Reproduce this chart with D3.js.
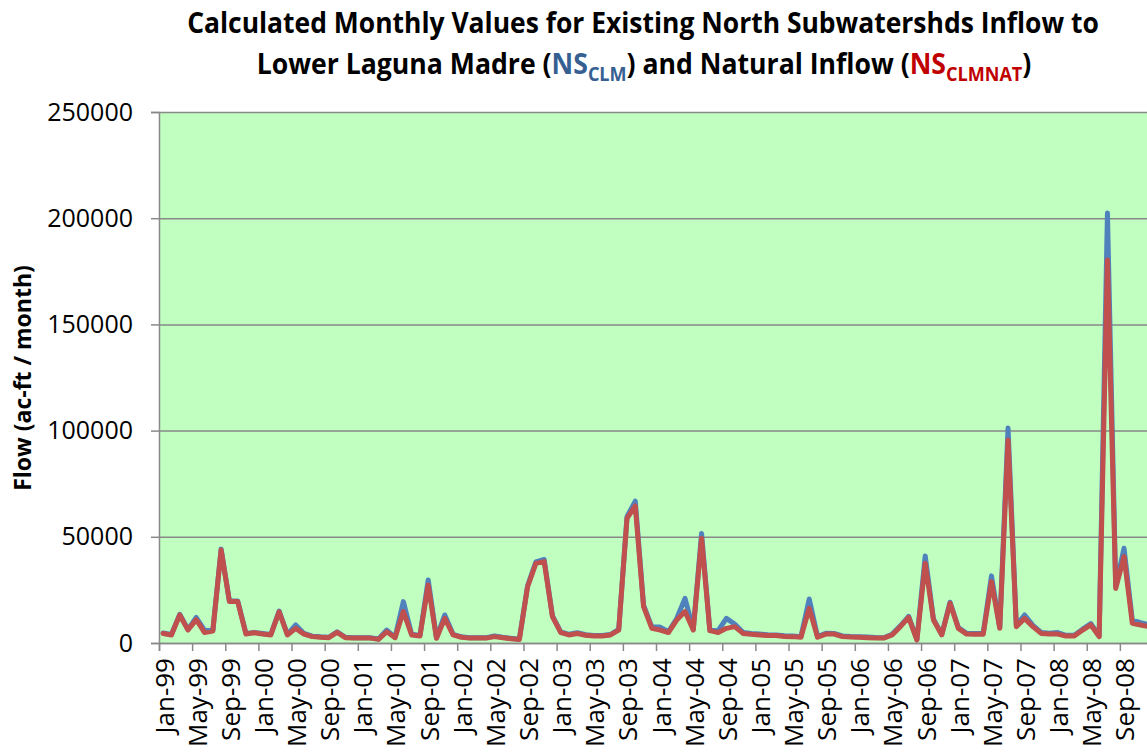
<!DOCTYPE html>
<html>
<head>
<meta charset="utf-8">
<script src="https://cdn.jsdelivr.net/npm/d3@7"></script>
<style>
  body { margin: 0; background: #fff; overflow: hidden; }
  svg { display: block; font-family: "Open Sans", sans-serif; }
</style>
</head>
<body>
<div id="chart"></div>
<script>
// data
var monthNames = ["Jan", "Feb", "Mar", "Apr", "May", "Jun", "Jul", "Aug", "Sep", "Oct", "Nov", "Dec"];
var years = ["99", "00", "01", "02", "03", "04", "05", "06", "07", "08"];

// NS_CLM (existing inflow), Jan-99 .. Dec-08
var nsClm = [
  4700, 4000, 13500, 6400, 12000, 6000, 5900, 44200, 19800, 19800,
  4500, 5000, 4500, 4000, 15000, 4100, 8500, 4500, 3200, 2900,
  2700, 5300, 2700, 2500, 2500, 2500, 1900, 6100, 2700, 19500,
  4100, 3500, 29700, 2400, 13200, 4100, 2900, 2500, 2500, 2500,
  3300, 2700, 2200, 1800, 27000, 38200, 39300, 12800, 5200, 4100,
  4800, 3900, 3500, 3500, 4000, 6400, 59500, 66800, 17800, 7500,
  7500, 5300, 11500, 21000, 6400, 51600, 6000, 5800, 11600, 8900,
  5000, 4500, 4200, 3900, 3800, 3400, 3300, 3000, 20700, 3000,
  4600, 4500, 3300, 3100, 3000, 2800, 2600, 2500, 4100, 8100,
  12500, 1600, 41000, 11200, 4100, 19200, 7300, 4600, 4500, 4500,
  31600, 7300, 101200, 8300, 13200, 8300, 5000, 4600, 4900, 3600,
  3600, 6500, 9100, 3300, 202400, 26500, 44600, 10800, 9600, 8500
];

// NS_CLMNAT (natural inflow)
var nsClmNat = [
  4500, 3800, 13200, 6100, 11000, 4900, 5600, 43800, 19500, 19500,
  4200, 4800, 4200, 3800, 14700, 3800, 6900, 4200, 3000, 2700,
  2500, 5000, 2500, 2300, 2300, 2300, 1700, 5300, 2500, 14800,
  3800, 3300, 27300, 2200, 11600, 3800, 2700, 2300, 2300, 2300,
  3000, 2500, 2000, 1600, 26500, 37500, 38300, 12400, 4900, 3800,
  4500, 3600, 3300, 3300, 3800, 6100, 58700, 64500, 17100, 6900,
  6100, 4900, 10800, 14800, 6100, 49300, 5800, 4900, 6900, 7700,
  4500, 4100, 3800, 3500, 3500, 3100, 3000, 2700, 16300, 2700,
  4200, 4200, 3000, 2800, 2700, 2500, 2300, 2300, 3800, 7700,
  12100, 1400, 37500, 10800, 3800, 18700, 6900, 4200, 4100, 4100,
  28900, 6900, 95600, 7700, 11600, 7700, 4500, 4200, 4200, 3300,
  3300, 6100, 8500, 3000, 180300, 25700, 40700, 9300, 8500, 7700
];

var yTicks = [0, 50000, 100000, 150000, 200000, 250000];

var categories = [];
years.forEach(function (yr) {
  monthNames.forEach(function (m) { categories.push(m + "-" + yr); });
});

// chart setup
var svgWidth = 1147;
var svgHeight = 753;
var plot = { left: 159, top: 112, right: 1153, bottom: 643 };

var svg = d3.select("#chart")
  .append("svg")
  .attr("width", svgWidth)
  .attr("height", svgHeight);

var xScale = d3.scaleBand()
  .domain(categories)
  .range([plot.left, plot.right])
  .padding(0);

// linear index scale, used for the ticks that sit between categories
var xIndex = d3.scaleLinear()
  .domain([0, categories.length])
  .range([plot.left, plot.right]);

var yScale = d3.scaleLinear()
  .domain([0, 250000])
  .range([plot.bottom, plot.top]);

// plot background
svg.append("rect")
  .attr("x", plot.left)
  .attr("y", plot.top)
  .attr("width", plot.right - plot.left)
  .attr("height", plot.bottom - plot.top)
  .attr("fill", "#C0FFC0");

// gridlines
svg.append("g")
  .attr("transform", `translate(${plot.left},0)`)
  .call(d3.axisLeft(yScale).tickValues(yTicks).tickSize(-(plot.right - plot.left)).tickFormat(""))
  .call(g => g.select(".domain").remove())
  .selectAll("line")
  .attr("stroke", "#898989")
  .attr("stroke-width", 1.5);

// y axis
var yAxis = svg.append("g")
  .attr("transform", `translate(${plot.left},0)`)
  .call(d3.axisLeft(yScale).tickValues(yTicks).tickSize(8).tickPadding(18).tickFormat(d3.format("d")));
yAxis.select(".domain").attr("stroke", "#898989").attr("stroke-width", 1.5);
yAxis.selectAll(".tick line").attr("stroke", "#898989").attr("stroke-width", 1.5);
yAxis.selectAll("text")
  .attr("font-family", "Open Sans")
  .attr("font-size", "25px")
  .attr("fill", "#000");

// x axis ticks between categories
var xTickAxis = svg.append("g")
  .attr("transform", `translate(0,${plot.bottom})`)
  .call(d3.axisBottom(xIndex).tickValues(d3.range(0, categories.length + 1, 4)).tickSize(8).tickFormat(""));
xTickAxis.select(".domain").attr("stroke", "#898989").attr("stroke-width", 1.5);
xTickAxis.selectAll(".tick line").attr("stroke", "#898989").attr("stroke-width", 1.5);

// x labels, every 4th month, rotated
svg.append("g")
  .selectAll("text")
  .data(categories.filter((d, i) => i % 4 === 0))
  .enter()
  .append("text")
  .attr("transform", d => `translate(${xScale(d) + xScale.bandwidth() / 2 + 1}, 658) rotate(-90)`)
  .attr("text-anchor", "end")
  .attr("dy", "0.36em")
  .attr("font-family", "Open Sans")
  .attr("font-size", "26px")
  .attr("fill", "#000")
  .text(d => d);

// lines
var line = function (values) {
  return d3.line()
    .x((d, i) => xScale(categories[i]) + xScale.bandwidth() / 2)
    .y(d => yScale(d))(values);
};

svg.append("path")
  .attr("d", line(nsClm))
  .attr("fill", "none")
  .attr("stroke", "#4F81BD")
  .attr("stroke-width", 5)
  .attr("stroke-linejoin", "round")
  .attr("stroke-linecap", "round");

svg.append("path")
  .attr("d", line(nsClmNat))
  .attr("fill", "none")
  .attr("stroke", "#C0504D")
  .attr("stroke-width", 5)
  .attr("stroke-linejoin", "round")
  .attr("stroke-linecap", "round");

// y axis title
svg.append("text")
  .attr("transform", "translate(31, 378) rotate(-90)")
  .attr("text-anchor", "middle")
  .attr("font-family", "Open Sans")
  .attr("font-weight", "bold")
  .attr("font-size", "23px")
  .attr("fill", "#000")
  .text("Flow (ac-ft / month)");

// title, squeezed to the width of the original
function fitText(sel, cx, y, targetWidth) {
  var w = sel.node().getBBox().width;
  sel.attr("transform", `translate(${cx},${y}) scale(${targetWidth / w},1)`);
}

var title1 = svg.append("text")
  .attr("text-anchor", "middle")
  .attr("font-family", "Open Sans")
  .attr("font-weight", "bold")
  .attr("font-size", "28px")
  .attr("fill", "#000")
  .text("Calculated Monthly Values for Existing North Subwatershds Inflow to");
fitText(title1, 643, 33, 912);

var title2 = svg.append("text")
  .attr("text-anchor", "middle")
  .attr("font-family", "Open Sans")
  .attr("font-weight", "bold")
  .attr("font-size", "28px")
  .attr("fill", "#000");
title2.append("tspan").text("Lower Laguna Madre (");
title2.append("tspan").attr("fill", "#366092").text("NS");
title2.append("tspan").attr("fill", "#366092").attr("font-size", "19px").attr("dy", 7).text("CLM");
title2.append("tspan").attr("dy", -7).text(") and Natural Inflow (");
title2.append("tspan").attr("fill", "#C00000").text("NS");
title2.append("tspan").attr("fill", "#C00000").attr("font-size", "19px").attr("dy", 7).text("CLMNAT");
title2.append("tspan").attr("dy", -7).text(")");
fitText(title2, 644, 74, 775);
</script>
</body>
</html>
